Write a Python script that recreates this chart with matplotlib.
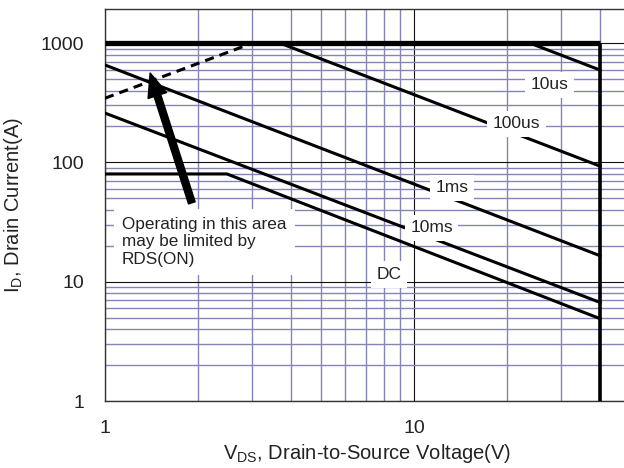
import matplotlib
matplotlib.use('Agg')
import matplotlib.pyplot as plt
from matplotlib.ticker import LogLocator, NullFormatter, FixedLocator, FixedFormatter

plt.rcParams['font.family'] = ['Liberation Sans', 'DejaVu Sans']

# SOA boundary lines (V, A)
limit_v = [1, 40, 40]
limit_i = [1000, 1000, 1]
rds_v = [1, 3.0]
rds_i = [345, 1000]
us10_v = [23.7, 40]
us10_i = [1000, 594]
us100_v = [3.68, 40]
us100_i = [1000, 93]
ms1_v = [1, 40]
ms1_i = [655, 16.5]
ms10_v = [1, 40]
ms10_i = [259, 6.7]
dc_v = [1, 2.48, 40]
dc_i = [80, 80, 4.9]

labels = ['10us', '100us', '1ms', '10ms', 'DC']
label_v = [27.5, 21.5, 13.3, 11.4, 8.3]
label_i = [446, 210, 61, 28.3, 11.5]

x_ticks = [1, 10]
y_ticks = [1, 10, 100, 1000]

fig = plt.figure(figsize=(6.24, 4.68), dpi=100)
ax = fig.add_axes([105 / 624, 67 / 468, 525 / 624, 392 / 468])
ax.set_xscale('log')
ax.set_yscale('log')
ax.set_xlim(1, 50)
ax.set_ylim(1, 1930)

grid_col = '#8585b5'
ax.xaxis.set_major_locator(FixedLocator(x_ticks))
ax.xaxis.set_major_formatter(FixedFormatter([str(t) for t in x_ticks]))
ax.yaxis.set_major_locator(FixedLocator(y_ticks))
ax.yaxis.set_major_formatter(FixedFormatter([str(t) for t in y_ticks]))
ax.xaxis.set_minor_locator(LogLocator(base=10, subs=range(2, 10)))
ax.yaxis.set_minor_locator(LogLocator(base=10, subs=range(2, 10)))
ax.xaxis.set_minor_formatter(NullFormatter())
ax.yaxis.set_minor_formatter(NullFormatter())
ax.grid(True, which='minor', color=grid_col, linewidth=1.0)
ax.grid(True, which='major', color='#111111', linewidth=0.8)
ax.tick_params(which='both', length=0, labelsize=14, colors='#222222')
ax.tick_params(axis='x', pad=14)
ax.tick_params(axis='y', pad=15)
for s in ax.spines.values():
    s.set_color('#333333')
    s.set_linewidth(1.0)
ax.spines['right'].set_visible(False)

lw = 2.2
ax.plot(limit_v[:2], limit_i[:2], color='black', linewidth=3.8,
        solid_capstyle='butt', zorder=3)
ax.plot(limit_v[1:], limit_i[1:], color='black', linewidth=2.6,
        solid_capstyle='butt', zorder=3)
ax.plot(rds_v, rds_i, color='black', linewidth=lw, linestyle=(0, (3, 2)), zorder=3)
for v, i in [(us10_v, us10_i), (us100_v, us100_i), (ms1_v, ms1_i),
             (ms10_v, ms10_i), (dc_v, dc_i)]:
    ax.plot(v, i, color='black', linewidth=lw, zorder=3)

for t, v, i in zip(labels, label_v, label_i):
    ax.text(v, i, t, fontsize=12.5, color='#222222', ha='center', va='center', zorder=5,
            bbox=dict(facecolor='white', edgecolor='none', pad=4))

ax.text(1.135, 21.6, 'Operating in this area\nmay be limited by\nRDS(ON)', fontsize=12.3,
        color='#222222', ha='left', va='center', linespacing=1.2, zorder=5,
        bbox=dict(facecolor='white', edgecolor='none', pad=6))

ax.annotate('', xy=(1.40, 561), xytext=(1.91, 45.8), zorder=6,
            arrowprops=dict(facecolor='black', edgecolor='black', width=5,
                            headwidth=14, headlength=17, shrink=0))

ax.set_xlabel('V$_\\mathregular{DS}$, Drain-to-Source Voltage(V)', fontsize=14.5,
              color='#222222', labelpad=3)
ax.set_ylabel('I$_\\mathregular{D}$, Drain Current(A)', fontsize=14.5,
              color='#222222', labelpad=11)

fig.savefig('out.png', dpi=100)
